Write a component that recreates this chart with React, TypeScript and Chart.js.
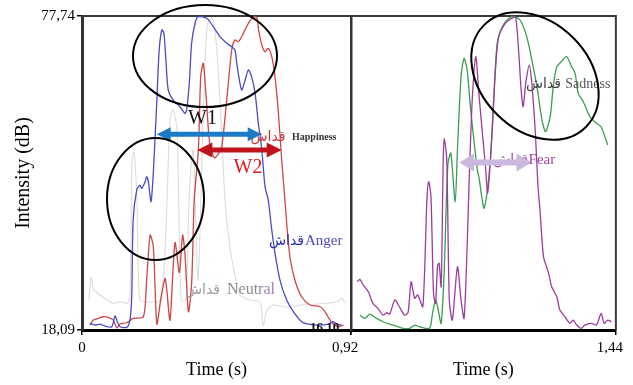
import React, { useEffect, useRef } from "react";
import { Chart, registerables } from "chart.js";
Chart.register(...registerables);

const SERIF = "'Liberation Serif', 'Times New Roman', serif";
const ARABIC = "'DejaVu Sans', 'Noto Sans', sans-serif";

// ---- axes ----
const yTickValues = [18.09, 77.74];
const leftXTicks = [0, 0.92];
const rightXTicks = [0.92, 1.44];

// ---- left panel: Anger (blue) ----
const angerTime = [0.027, 0.045, 0.062, 0.085, 0.102, 0.113, 0.121, 0.130, 0.153, 0.164, 0.170, 0.175, 0.187, 0.198, 0.204, 0.216, 0.221, 0.227, 0.236, 0.244, 0.256, 0.264, 0.273, 0.280, 0.287, 0.295, 0.312, 0.335, 0.352, 0.358, 0.367, 0.375, 0.387, 0.398, 0.427, 0.449, 0.472, 0.495, 0.512, 0.523, 0.531, 0.546, 0.558, 0.569, 0.580, 0.592, 0.603, 0.615, 0.626, 0.637, 0.649, 0.660, 0.677, 0.700, 0.723, 0.751, 0.774, 0.814, 0.842, 0.859, 0.871, 0.888];
const angerDb = [19.35, 19.03, 19.22, 18.71, 18.71, 20.74, 19.66, 18.71, 18.59, 19.98, 24.41, 38.98, 44.68, 45.63, 45.0, 46.26, 47.21, 46.26, 42.46, 48.0, 61.78, 71.28, 75.08, 74.51, 69.38, 63.68, 61.78, 60.51, 59.25, 59.88, 65.01, 72.61, 76.41, 77.61, 77.30, 75.71, 73.81, 72.55, 71.91, 71.28, 68.11, 63.68, 65.58, 67.48, 66.21, 63.05, 57.41, 52.28, 45.31, 42.78, 37.08, 32.71, 27.58, 23.78, 21.56, 19.66, 19.22, 19.03, 19.22, 19.66, 19.22, 19.03];

// ---- left panel: Happiness (red) ----
const happyTime = [0.027, 0.039, 0.056, 0.073, 0.090, 0.107, 0.119, 0.130, 0.153, 0.175, 0.210, 0.221, 0.233, 0.244, 0.256, 0.269, 0.284, 0.290, 0.301, 0.318, 0.333, 0.344, 0.352, 0.364, 0.375, 0.384, 0.398, 0.406, 0.415, 0.425, 0.437, 0.453, 0.466, 0.478, 0.495, 0.512, 0.523, 0.535, 0.546, 0.569, 0.586, 0.598, 0.604, 0.615, 0.626, 0.637, 0.649, 0.660, 0.671, 0.683, 0.694, 0.700, 0.711, 0.728, 0.751, 0.780, 0.814, 0.831, 0.848, 0.859, 0.877, 0.894];
const happyDb = [19.03, 19.98, 20.30, 20.61, 20.49, 19.98, 18.46, 19.22, 19.47, 20.30, 20.61, 27.58, 36.13, 33.91, 19.22, 23.78, 27.90, 25.68, 19.98, 34.71, 29.01, 36.13, 32.65, 21.56, 27.01, 43.0, 52.28, 66.21, 68.75, 62.0, 53.5, 50.8, 51.5, 52.91, 61.78, 71.28, 73.18, 72.86, 73.81, 76.35, 77.55, 77.46, 75.08, 72.23, 70.96, 71.6, 70.01, 66.21, 59.88, 50.38, 42.78, 38.41, 32.01, 27.58, 24.41, 22.83, 22.51, 21.56, 19.98, 19.22, 18.71, 19.03];

// ---- left panel: Neutral (light gray) ----
const neutralTime = [0.024, 0.031, 0.041, 0.062, 0.086, 0.106, 0.130, 0.154, 0.164, 0.171, 0.178, 0.188, 0.198, 0.233, 0.267, 0.284, 0.301, 0.311, 0.325, 0.339, 0.356, 0.366, 0.380, 0.397, 0.414, 0.428, 0.445, 0.458, 0.472, 0.489, 0.506, 0.523, 0.540, 0.575, 0.609, 0.619, 0.633, 0.653, 0.701, 0.746, 0.804, 0.872, 0.889, 0.900];
const neutralDb = [23.78, 27.96, 25.68, 24.73, 23.78, 23.21, 23.40, 23.21, 24.16, 50.38, 51.90, 42.78, 23.78, 23.40, 23.78, 33.28, 57.98, 59.88, 56.08, 23.78, 23.78, 42.78, 52.28, 27.58, 57.98, 76.03, 77.36, 73.18, 61.78, 42.78, 33.85, 28.53, 24.73, 23.78, 23.40, 18.84, 21.88, 22.83, 22.45, 22.83, 23.02, 23.40, 24.16, 23.21];

// ---- right panel: Sadness (green) ----
const sadTime = [0.9375, 0.9473, 0.957, 0.970, 0.983, 0.996, 1.009, 1.022, 1.035, 1.045, 1.054, 1.074, 1.080, 1.086, 1.090, 1.097, 1.103, 1.110, 1.116, 1.1245, 1.129, 1.136, 1.142, 1.148, 1.155, 1.162, 1.168, 1.171, 1.181, 1.187, 1.194, 1.200, 1.207, 1.217, 1.230, 1.239, 1.252, 1.265, 1.275, 1.285, 1.295, 1.302, 1.311, 1.317, 1.324, 1.330, 1.343, 1.353, 1.360, 1.366, 1.376, 1.389, 1.402, 1.411, 1.424];
const sadDb = [20.93, 20.30, 21.12, 20.30, 19.66, 19.22, 18.84, 18.41, 18.41, 19.03, 18.71, 18.41, 21.25, 23.78, 22.51, 19.35, 29.48, 49.43, 51.71, 42.46, 52.28, 66.21, 69.70, 67.48, 59.88, 53.55, 48.48, 47.21, 41.21, 44.05, 51.01, 61.78, 72.55, 75.71, 77.30, 77.61, 76.98, 73.81, 69.38, 64.31, 57.98, 55.76, 58.61, 64.31, 68.11, 68.75, 70.01, 68.11, 66.85, 63.05, 61.46, 58.61, 57.35, 56.71, 53.23];

// ---- right panel: Fear (purple) ----
const fearTime = [0.932, 0.9375, 0.944, 0.954, 0.963, 0.973, 0.983, 0.990, 0.996, 1.006, 1.015, 1.025, 1.032, 1.038, 1.045, 1.051, 1.061, 1.069, 1.0725, 1.077, 1.082, 1.086, 1.090, 1.093, 1.097, 1.101, 1.103, 1.108, 1.113, 1.119, 1.129, 1.136, 1.142, 1.148, 1.152, 1.158, 1.165, 1.171, 1.178, 1.184, 1.188, 1.191, 1.197, 1.204, 1.210, 1.223, 1.236, 1.243, 1.249, 1.254, 1.258, 1.263, 1.270, 1.275, 1.282, 1.287, 1.291, 1.298, 1.308, 1.314, 1.324, 1.330, 1.340, 1.350, 1.356, 1.363, 1.372, 1.379, 1.392, 1.402, 1.411, 1.417, 1.424, 1.431];
const fearDb = [27.26, 27.72, 26.63, 25.36, 23.15, 22.20, 20.93, 21.37, 21.12, 23.78, 22.51, 20.93, 21.37, 27.26, 24.10, 24.73, 22.51, 42.78, 46.26, 43.41, 25.05, 23.15, 30.43, 30.75, 26.31, 50.38, 54.50, 50.38, 23.78, 19.98, 30.11, 23.78, 20.30, 33.91, 46.58, 61.78, 70.01, 63.05, 55.45, 49.11, 44.11, 46.58, 55.45, 68.11, 73.81, 76.35, 77.30, 77.61, 71.28, 63.68, 60.51, 64.95, 68.43, 64.95, 55.45, 45.5, 40.88, 32.01, 28.85, 26.31, 24.41, 21.88, 20.61, 19.35, 19.98, 19.03, 18.41, 19.03, 19.35, 19.03, 21.25, 19.35, 19.98, 19.66];

// ---- annotations (anchored in data units) ----
type Part = { text: string; color: string };
type Note =
  | { kind: "ellipse"; t: number; db: number; rx: number; ry: number; rot: number }
  | { kind: "arrow"; t1: number; t2: number; db: number; color: string; width: number; head: number; half: number }
  | { kind: "text"; t: number; db: number; parts: Part[]; font: string; align: "left" | "center"; clip?: boolean };

const leftNotes: Note[] = [
  { kind: "text", t: 0.412, db: 25.68, parts: [{ text: "قداش", color: "#9c9c9c" }], font: `14px ${ARABIC}`, align: "center" },
  { kind: "text", t: 0.4959, db: 25.68, parts: [{ text: "Neutr", color: "#8c8c8c" }, { text: "al", color: "#b07cc0" }], font: `16px ${SERIF}`, align: "left" },
  { kind: "text", t: 0.6994, db: 35.0, parts: [{ text: "قداش", color: "#2a2aa8" }], font: `14px ${ARABIC}`, align: "center" },
  { kind: "text", t: 0.7627, db: 35.0, parts: [{ text: "Anger", color: "#4a4ac0" }], font: `15px ${SERIF}`, align: "left" },
  { kind: "text", t: 0.7798, db: 18.46, parts: [{ text: "16,10", color: "#111" }], font: `bold 13px ${SERIF}`, align: "left", clip: true },
  { kind: "arrow", t1: 0.2555, t2: 0.6146, db: 55.26, color: "#1b7bc6", width: 5, head: 14, half: 7 },
  { kind: "arrow", t1: 0.3943, t2: 0.683, db: 52.28, color: "#c0141c", width: 5, head: 15, half: 7.5 },
  { kind: "text", t: 0.636, db: 54.75, parts: [{ text: "قداش", color: "#c8363c" }], font: `14px ${ARABIC}`, align: "center" },
  { kind: "text", t: 0.7182, db: 54.75, parts: [{ text: "Happiness", color: "#333" }], font: `bold 10px ${SERIF}`, align: "left" },
  { kind: "text", t: 0.412, db: 58.17, parts: [{ text: "W1", color: "#111" }], font: `20px ${SERIF}`, align: "center" },
  { kind: "text", t: 0.5677, db: 48.86, parts: [{ text: "W2", color: "#e8141b" }], font: `20px ${SERIF}`, align: "center" },
  { kind: "ellipse", t: 0.4207, db: 70.14, rx: 72, ry: 51, rot: 0 },
  { kind: "ellipse", t: 0.2514, db: 42.97, rx: 48.5, ry: 61, rot: 0 },
];

const rightNotes: Note[] = [
  { kind: "text", t: 1.2335, db: 50.38, parts: [{ text: "قداش", color: "#9a4aa0" }], font: `14px ${ARABIC}`, align: "center" },
  { kind: "arrow", t1: 1.1323, t2: 1.2744, db: 49.91, color: "#cbb8df", width: 6, head: 15, half: 9 },
  { kind: "text", t: 1.2686, db: 50.38, parts: [{ text: "Fear", color: "#a04aa8" }], font: `15px ${SERIF}`, align: "left" },
  { kind: "text", t: 1.2978, db: 64.82, parts: [{ text: "قداش", color: "#444" }], font: `14px ${ARABIC}`, align: "center" },
  { kind: "text", t: 1.3406, db: 64.82, parts: [{ text: "Sadness", color: "#555" }], font: `14px ${SERIF}`, align: "left" },
  { kind: "ellipse", t: 1.2812, db: 66.34, rx: 72, ry: 54, rot: 45 },
];

const fmt = (v: number) => String(v).replace(".", ",");

function pts(t: number[], d: number[]) {
  const n = Math.min(t.length, d.length);
  const out: { x: number; y: number }[] = [];
  for (let i = 0; i < n; i++) out.push({ x: t[i], y: d[i] });
  return out;
}

function notesPlugin(notes: Note[], rightEdge: boolean) {
  return {
    id: "notes",
    beforeDatasetsDraw(chart: any) {
      const { ctx, chartArea: a } = chart;
      ctx.save();
      ctx.strokeStyle = "#3a3a3a";
      ctx.lineWidth = 2;
      ctx.beginPath();
      ctx.moveTo(a.left, a.top);
      ctx.lineTo(a.right, a.top);
      if (rightEdge) ctx.lineTo(a.right, a.bottom);
      ctx.stroke();
      ctx.restore();
    },
    afterDatasetsDraw(chart: any) {
      const { ctx, chartArea: a } = chart;
      const xs = chart.scales.x;
      const ys = chart.scales.y;
      for (const n of notes) {
        ctx.save();
        if (n.kind === "ellipse") {
          ctx.strokeStyle = "#000";
          ctx.lineWidth = 2;
          ctx.beginPath();
          ctx.ellipse(xs.getPixelForValue(n.t), ys.getPixelForValue(n.db), n.rx, n.ry, (n.rot * Math.PI) / 180, 0, Math.PI * 2);
          ctx.stroke();
        } else if (n.kind === "arrow") {
          const x1 = xs.getPixelForValue(n.t1);
          const x2 = xs.getPixelForValue(n.t2);
          const y = ys.getPixelForValue(n.db);
          ctx.strokeStyle = n.color;
          ctx.fillStyle = n.color;
          ctx.lineWidth = n.width;
          ctx.beginPath();
          ctx.moveTo(x1 + n.head * 0.8, y);
          ctx.lineTo(x2 - n.head * 0.8, y);
          ctx.stroke();
          ctx.beginPath();
          ctx.moveTo(x1, y);
          ctx.lineTo(x1 + n.head, y - n.half);
          ctx.lineTo(x1 + n.head, y + n.half);
          ctx.closePath();
          ctx.fill();
          ctx.beginPath();
          ctx.moveTo(x2, y);
          ctx.lineTo(x2 - n.head, y - n.half);
          ctx.lineTo(x2 - n.head, y + n.half);
          ctx.closePath();
          ctx.fill();
        } else {
          if (n.clip) {
            ctx.beginPath();
            ctx.rect(a.left, a.top, a.right - a.left, a.bottom - a.top - 1);
            ctx.clip();
          }
          ctx.font = n.font;
          ctx.textBaseline = "middle";
          ctx.textAlign = "left";
          let total = 0;
          for (const p of n.parts) total += ctx.measureText(p.text).width;
          let x = xs.getPixelForValue(n.t) - (n.align === "center" ? total / 2 : 0);
          const y = ys.getPixelForValue(n.db);
          for (const p of n.parts) {
            ctx.fillStyle = p.color;
            ctx.fillText(p.text, x, y);
            x += ctx.measureText(p.text).width;
          }
        }
        ctx.restore();
      }
    },
  };
}

const tickFont = { family: SERIF, size: 15 };

function lineDs(label: string, t: number[], d: number[], color: string, width = 1.3) {
  return {
    label,
    data: pts(t, d),
    borderColor: color,
    borderWidth: width,
    pointRadius: 0,
    fill: false,
    tension: 0.25,
  };
}

function leftConfig(): any {
  return {
    type: "line",
    data: {
      datasets: [
        lineDs("Anger", angerTime, angerDb, "#4b4bc4"),
        lineDs("Happiness", happyTime, happyDb, "#d04545"),
        lineDs("Neutral", neutralTime, neutralDb, "#dcdcdc", 1.1),
      ],
    },
    options: {
      animation: false,
      responsive: false,
      devicePixelRatio: 1,
      layout: { padding: { left: 0, top: 16, right: 282, bottom: 0 } },
      plugins: { legend: { display: false }, tooltip: { enabled: false } },
      scales: {
        x: {
          type: "linear",
          min: 0,
          max: 0.92,
          afterBuildTicks: (s: any) => {
            s.ticks = leftXTicks.map((v) => ({ value: v }));
          },
          afterFit: (s: any) => {
            s.height = 55;
          },
          ticks: { callback: (v: number) => (v === 0 ? fmt(v) : ""), font: tickFont, color: "#000", padding: 4, maxRotation: 0, autoSkip: false },
          grid: { drawOnChartArea: false, drawTicks: true, tickLength: 5, color: "#000", lineWidth: 1.5 },
          border: { display: true, color: "#000", width: 3 },
          title: { display: true, text: "Time (s)", font: { family: SERIF, size: 18 }, color: "#000", padding: { top: 0, bottom: 4 } },
        },
        y: {
          type: "linear",
          min: 18.09,
          max: 77.74,
          afterBuildTicks: (s: any) => {
            s.ticks = yTickValues.map((v) => ({ value: v }));
          },
          afterFit: (s: any) => {
            s.width = 82;
          },
          ticks: { callback: (v: number) => fmt(v), font: tickFont, color: "#000", padding: 2, autoSkip: false },
          grid: { drawOnChartArea: false, drawTicks: true, tickLength: 5, color: "#000", lineWidth: 1.5 },
          border: { display: true, color: "#333", width: 3 },
          title: { display: true, text: "Intensity (dB)", font: { family: SERIF, size: 20 }, color: "#000", padding: { top: 12, bottom: 0 } },
        },
      },
    },
    plugins: [notesPlugin(leftNotes, false)],
  };
}

function rightConfig(): any {
  return {
    type: "line",
    data: {
      datasets: [
        lineDs("Fear", fearTime, fearDb, "#9c3c9e"),
        lineDs("Sadness", sadTime, sadDb, "#3c9c50"),
      ],
    },
    options: {
      animation: false,
      responsive: false,
      devicePixelRatio: 1,
      layout: { padding: { left: 0, top: 16, right: 15, bottom: 0 } },
      plugins: { legend: { display: false }, tooltip: { enabled: false } },
      scales: {
        x: {
          type: "linear",
          min: 0.92,
          max: 1.44,
          afterBuildTicks: (s: any) => {
            s.ticks = rightXTicks.map((v) => ({ value: v }));
          },
          afterFit: (s: any) => {
            s.height = 55;
          },
          ticks: { callback: (v: number) => fmt(v), font: tickFont, color: "#000", padding: 4, maxRotation: 0, autoSkip: false, labelOffset: -6 },
          grid: { drawOnChartArea: false, drawTicks: true, tickLength: 5, color: "#000", lineWidth: 1.5 },
          border: { display: true, color: "#000", width: 3 },
          title: { display: true, text: "Time (s)", font: { family: SERIF, size: 18 }, color: "#000", padding: { top: 0, bottom: 4 } },
        },
        y: {
          type: "linear",
          min: 18.09,
          max: 77.74,
          afterFit: (s: any) => {
            s.width = 351;
          },
          ticks: { display: false },
          grid: { drawOnChartArea: false, drawTicks: false },
          border: { display: true, color: "#333", width: 2.5 },
        },
      },
    },
    plugins: [notesPlugin(rightNotes, true)],
  };
}

export default function App() {
  const leftRef = useRef<HTMLCanvasElement>(null);
  const rightRef = useRef<HTMLCanvasElement>(null);
  useEffect(() => {
    document.body.style.margin = "0";
    const l = new Chart(leftRef.current as HTMLCanvasElement, leftConfig());
    const r = new Chart(rightRef.current as HTMLCanvasElement, rightConfig());
    return () => {
      l.destroy();
      r.destroy();
    };
  }, []);
  return (
    <div style={{ position: "relative", width: 633, height: 385, background: "#fff", overflow: "hidden" }}>
      <canvas ref={leftRef} width={633} height={385} style={{ position: "absolute", left: 0, top: 0 }} />
      <canvas ref={rightRef} width={633} height={385} style={{ position: "absolute", left: 0, top: 0 }} />
    </div>
  );
}
